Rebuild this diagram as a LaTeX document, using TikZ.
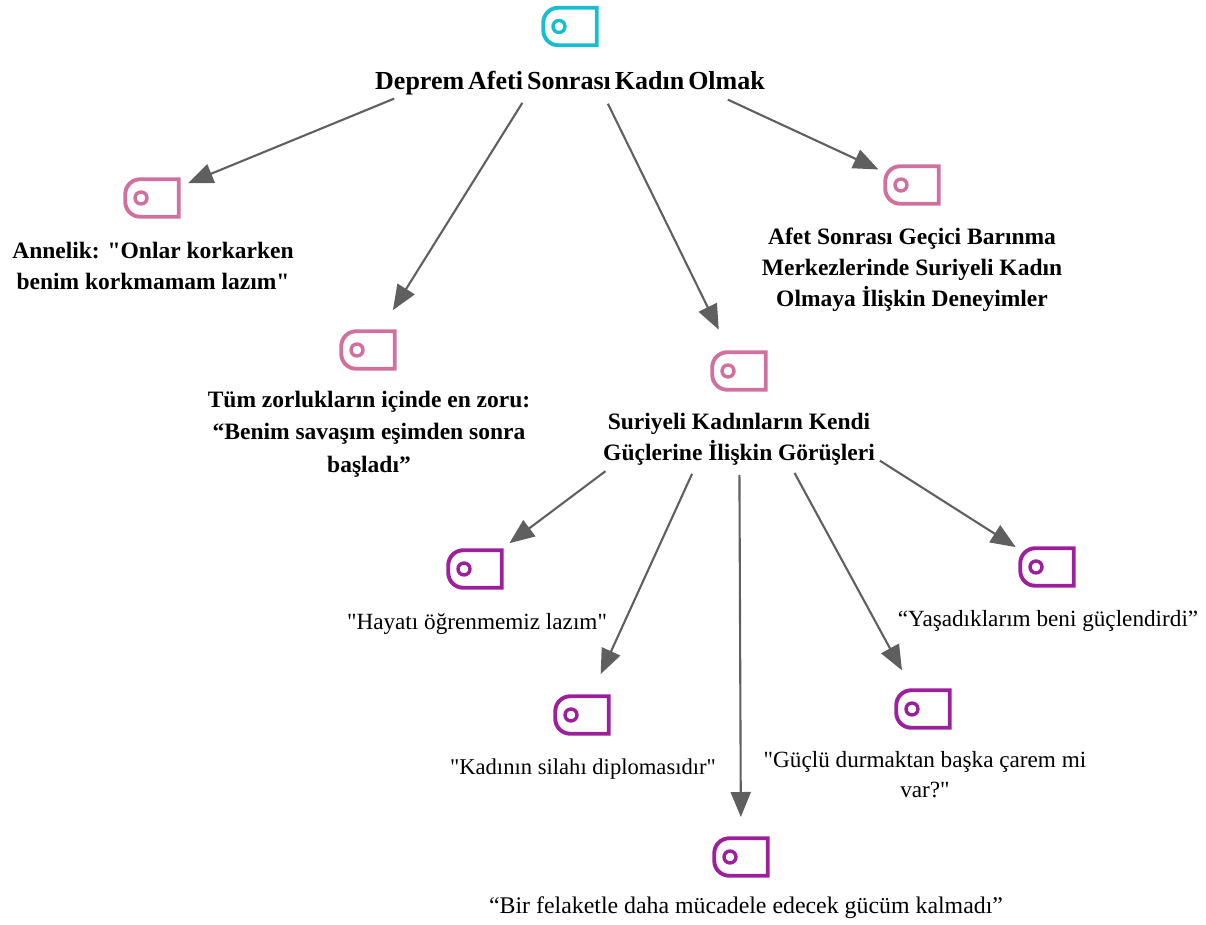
\documentclass[tikz,border=0pt]{standalone}
\usepackage{fontspec}
\setmainfont{Liberation Serif}[Ligatures=TeXOff]
\usetikzlibrary{arrows.meta}
\definecolor{rootcol}{HTML}{17BECF}
\definecolor{themecol}{HTML}{D0709F}
\definecolor{quotecol}{HTML}{9C1F9C}
\definecolor{edgecol}{HTML}{5F5F5F}
\tikzset{
  tagbox/.style={minimum width=53.5pt,minimum height=37.5pt,inner sep=0pt,outer sep=0pt},
  taghole/.style={circle,draw=#1,line width=3.4pt,minimum size=12pt,inner sep=0pt},
  edge/.style={draw=edgecol,line width=2.1pt,-{Triangle[length=25pt,width=20pt]}},
  boldlabel/.style={align=center,font=\fontsize{23.5}{31}\selectfont\bfseries,inner sep=0pt},
  quotelabel/.style={align=center,font=\fontsize{23.2}{30}\selectfont,inner sep=0pt}
}
\newcommand{\tagicon}[3]{
  \node[tagbox] (#1) at (#2) {};
  \node[taghole=#3,xshift=-11pt] (#1hole) at (#1) {};
  \draw[#3,line width=3.9pt] (#1.north east) -- (#1.south east)
    [rounded corners=15pt] -- (#1.south west) -- (#1.north west) [sharp corners] -- cycle;
}
\begin{document}
\begin{tikzpicture}[x=1pt,y=-1pt]
  \useasboundingbox (0,0) rectangle (1206,925);
  \tagicon{root}{570,26.5}{rootcol}
  \tagicon{annelik}{152,198}{themecol}
  \tagicon{zorluk}{368,350}{themecol}
  \tagicon{guc}{739,371}{themecol}
  \tagicon{afet}{912,185}{themecol}
  \tagicon{hayat}{475,569}{quotecol}
  \tagicon{silah}{582,715}{quotecol}
  \tagicon{felaket}{741,857}{quotecol}
  \tagicon{care}{923,709}{quotecol}
  \tagicon{yasam}{1047,567}{quotecol}

  \node[boldlabel,font=\fontsize{26}{31}\selectfont\bfseries] (rootlabel) at (570,83) {\spaceskip=4pt\relax Deprem Afeti Sonrası Kadın Olmak};
  \node[boldlabel] (anneliklabel) at (153,266) {Annelik: "Onlar korkarken\\benim korkmamam lazım"};
  \node[boldlabel,font=\fontsize{23.5}{32.5}\selectfont\bfseries] (zorluklabel) at (369,434) {Tüm zorlukların içinde en zoru:\\“Benim savaşım eşimden sonra\\başladı”};
  \node[boldlabel] (guclabel) at (739,439) {Suriyeli Kadınların Kendi\\Güçlerine İlişkin Görüşleri};
  \node[boldlabel] (afetlabel) at (912,270) {Afet Sonrası Geçici Barınma\\Merkezlerinde Suriyeli Kadın\\Olmaya İlişkin Deneyimler};
  \node[quotelabel] (hayatlabel) at (477,624) {"Hayatı öğrenmemiz lazım"};
  \node[quotelabel,font=\fontsize{22.6}{30}\selectfont] (silahlabel) at (583,769) {"Kadının silahı diplomasıdır"};
  \node[quotelabel,font=\fontsize{23.85}{30}\selectfont] (felaketlabel) at (746,908) {“Bir felaketle daha mücadele edecek gücüm kalmadı”};
  \node[quotelabel] (carelabel) at (925,775) {"Güçlü durmaktan başka çarem mi\\var?"};
  \node[quotelabel] (yasamlabel) at (1048,621) {“Yaşadıklarım beni güçlendirdi”};

  \begin{scope}[edge]
    \draw[shorten <=190pt,shorten >=39pt] (root.center) to (annelik.center);
    \draw[shorten <=90pt,shorten >=47pt] (root.center) to (zorluk.center);
    \draw[shorten <=86pt,shorten >=46pt] (root.center) to (guc.center);
    \draw[shorten <=174pt,shorten >=37pt] (root.center) to (afet.center);
    \draw[shorten <=167pt,shorten >=43pt] (guc.center) to (hayat.center);
    \draw[shorten <=113pt,shorten >=45pt] (guc.center) to (silah.center);
    \draw[shorten <=104pt,shorten >=40pt] (guc.center) to (felaket.center);
    \draw[shorten <=116pt,shorten >=44pt] (guc.center) to (care.center);
    \draw[shorten <=167pt,shorten >=37pt] (guc.center) to (yasam.center);
  \end{scope}
\end{tikzpicture}
\end{document}
